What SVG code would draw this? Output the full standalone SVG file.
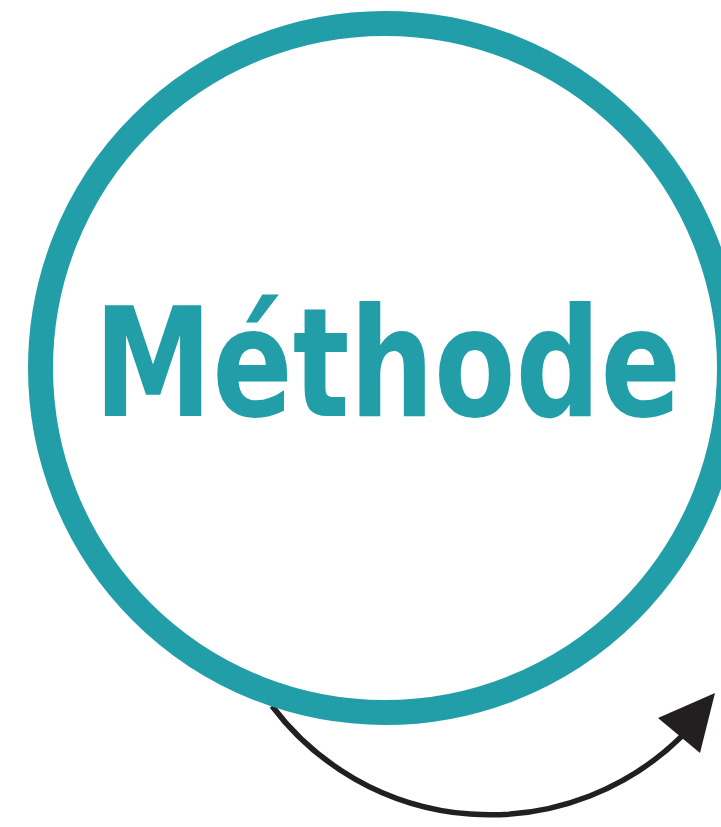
<svg xmlns="http://www.w3.org/2000/svg" width="721" height="827" viewBox="0 0 721 827">
  <style>
    .ring { fill: none; stroke: #219ea8; stroke-width: 25; }
    .title { fill: #219ea8; font-family: "DejaVu Sans Condensed", "DejaVu Sans", "Liberation Sans", sans-serif; font-weight: bold; font-size: 151px; }
    .conn { fill: none; stroke: #231f20; stroke-width: 5.5; }
    .head { fill: #231f20; }
  </style>
  <rect width="721" height="827" fill="#ffffff"/>
  <g id="connectors">
    <path class="conn" d="M 272 706 A 273 273 0 0 0 682 736"/>
    <polygon class="head" points="715,693 658,718 700,753"/>
  </g>
  <g id="node-methode">
    <circle class="ring" cx="385" cy="368" r="344.5"/>
    <text class="title" x="94" y="416" textLength="587" lengthAdjust="spacingAndGlyphs">Méthode</text>
  </g>
</svg>
